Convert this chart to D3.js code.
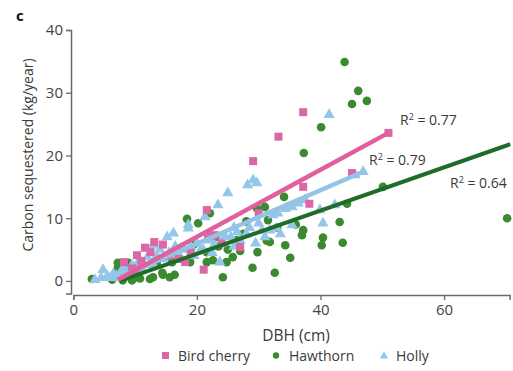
<!DOCTYPE html>
<html>
<head>
<meta charset="utf-8">
<title>Carbon sequestered vs DBH</title>
<style>
	body { margin: 0; background: #fff; }
	svg text { font-family: "Open Sans", "Noto Sans", sans-serif; fill: #3a3a3a; }
</style>
</head>
<body>
<div class="chart"></div>
<script src="https://cdn.jsdelivr.net/npm/d3@7"></script>
<script>
	// [DBH (cm), carbon (kg/year)]
	const birdCherry = [
		[8.2,3.0],[9.5,2.0],[10.0,1.8],[10.3,4.1],[11.0,3.2],[11.6,5.3],[12.5,4.6],[13.1,6.2],
		[14.5,5.8],[15.5,4.0],[17.0,3.5],[18.1,3.0],[19.0,4.5],[21.1,1.8],[21.6,11.3],[21.8,7.3],
		[22.9,7.3],[24.0,6.0],[27.0,5.4],[29.1,19.1],[30.0,10.8],[33.2,23.0],[37.2,26.9],
		[37.2,15.0],[38.2,12.3],[45.1,17.2],[51.0,23.6]
	];
	const hawthorn = [
		[3.0,0.3],[6.3,0.2],[7.2,2.1],[7.2,2.9],[8.0,0.1],[8.9,2.9],[9.5,0.1],[9.7,0.3],[10.8,0.4],
		[11.0,2.2],[12.4,0.3],[12.9,0.6],[13.5,2.8],[14.4,1.3],[14.5,1.0],[15.6,0.6],[16.0,3.0],
		[16.4,1.0],[17.6,5.4],[18.4,9.9],[18.9,3.0],[19.5,5.8],[20.2,9.2],[21.6,4.6],[21.6,3.0],
		[22.1,10.8],[22.6,3.3],[23.0,7.0],[23.5,5.5],[24.2,0.6],[24.8,3.0],[25.0,5.0],[25.8,3.8],
		[26.5,6.5],[27.0,4.8],[27.5,7.5],[28.0,9.5],[29.0,2.1],[29.7,11.6],[29.8,4.6],[31.0,11.8],
		[31.3,6.4],[31.5,9.7],[31.8,6.2],[32.6,1.3],[33.0,8.5],[34.1,13.4],[34.3,5.7],[35.1,3.7],
		[36.0,9.0],[37.0,7.3],[37.2,8.1],[37.3,20.4],[40.1,24.5],[40.2,5.7],[40.4,6.9],[43.1,9.4],
		[43.6,6.1],[43.9,34.9],[44.3,12.3],[45.1,28.2],[46.1,30.3],[47.5,28.7],[50.1,15.0],[70.2,10.0]
	];
	const holly = [
		[3.5,0.2],[4.5,0.5],[4.8,1.8],[5.5,0.8],[6.0,0.5],[6.5,1.2],[7.0,0.8],[7.5,1.0],[8.0,2.0],
		[8.5,1.5],[9.0,1.2],[9.5,2.5],[10.0,1.8],[10.5,3.0],[11.0,2.0],[11.5,2.6],[12.0,3.8],
		[12.9,5.7],[13.0,2.5],[13.5,4.0],[14.0,5.0],[14.5,3.5],[15.2,7.0],[15.5,4.5],[16.2,7.6],
		[16.5,5.5],[17.0,4.2],[17.5,3.5],[18.0,5.0],[18.6,8.4],[18.6,8.9],[19.0,5.5],[19.5,4.0],
		[20.0,6.0],[20.5,4.8],[21.0,5.0],[21.3,10.2],[22.0,6.5],[22.5,4.5],[22.8,5.8],[23.4,12.1],
		[23.7,3.0],[24.0,6.0],[24.5,7.2],[25.0,14.0],[25.5,7.0],[26.0,5.5],[26.0,8.5],[26.5,7.8],
		[27.0,6.5],[28.2,15.3],[28.0,7.5],[28.5,8.5],[29.1,16.1],[29.5,6.0],[29.7,15.6],[30.0,9.2],
		[30.5,8.0],[31.0,7.0],[31.8,8.1],[32.3,10.5],[32.9,8.4],[33.1,10.8],[33.5,7.5],[34.3,11.5],
		[35.4,11.8],[35.4,8.9],[36.4,12.4],[37.5,12.9],[39.9,11.3],[40.4,9.2],[41.4,26.5],[42.3,12.1],
		[45.6,16.9],[46.9,17.4]
	];

	// fitted lines, start and end points
	const fitBirdCherry = [[7.2,0.2],[51.0,23.6]];
	const fitHawthorn = [[7.5,0.0],[70.7,21.8]];
	const fitHolly = [[6.5,0.2],[46.9,17.4]];

	const seriesNames = ["Bird cherry", "Hawthorn", "Holly"];
	const r2Labels = ["0.77", "0.79", "0.64"];
	const xTicks = [0, 20, 40, 60];
	const yTicks = [0, 10, 20, 30, 40];

	window.onload = function(){
		draw();
	}

	function draw(){
		let width = 513, height = 371;
		let colors = {pink: "#dc67a6", green: "#3c8a30", blue: "#93c6e8",
			pinkLine: "#e0609f", greenLine: "#1f6b28", blueLine: "#95c3e6"};

		let svg = d3.select(".chart").append("svg")
			.attr("width", width)
			.attr("height", height);

		let x = d3.scaleLinear().domain([0, 70.6]).range([73.3, 509.6]);
		let y = d3.scaleLinear().domain([-2, 40]).range([293.5, 30]);

		// axes
		let axisX = svg.append("g")
			.attr("transform", "translate(0,295)")
			.call(d3.axisBottom(x).tickValues(xTicks).tickSizeOuter(0).tickSize(5).tickPadding(4));
		let axisY = svg.append("g")
			.attr("transform", "translate(71,0)")
			.call(d3.axisLeft(y).tickValues(yTicks).tickSizeOuter(0).tickSize(5).tickPadding(3));
		[axisX, axisY].forEach(function(a){
			a.select(".domain").attr("stroke", "#6a6a6a").attr("stroke-width", 1.5);
			a.selectAll(".tick line").attr("stroke", "#6a6a6a").attr("stroke-width", 1.3);
			a.selectAll(".tick text").attr("font-size", 15).style("fill", "#444")
				.attr("font-family", null);
		});

		// points
		let plot = svg.append("g");
		plot.selectAll("circle.hawthorn").data(hawthorn).enter().append("circle")
			.attr("class", "hawthorn")
			.attr("cx", d => x(d[0])).attr("cy", d => y(d[1]))
			.attr("r", 4.3).attr("fill", colors.green);

		let tri = d3.symbol().type(d3.symbolTriangle).size(55);
		plot.selectAll("path.holly").data(holly).enter().append("path")
			.attr("class", "holly")
			.attr("d", tri)
			.attr("transform", d => "translate(" + x(d[0]) + "," + y(d[1]) + ")")
			.attr("fill", colors.blue);

		plot.selectAll("rect.cherry").data(birdCherry).enter().append("rect")
			.attr("class", "cherry")
			.attr("x", d => x(d[0]) - 4).attr("y", d => y(d[1]) - 4)
			.attr("width", 8).attr("height", 8)
			.attr("fill", colors.pink);

		// fit lines
		let line = d3.line().x(d => x(d[0])).y(d => y(d[1]));
		plot.append("path").datum(fitHolly).attr("d", line)
			.attr("stroke", colors.blueLine).attr("stroke-width", 4.5).attr("fill", "none");
		plot.append("path").datum(fitHawthorn).attr("d", line)
			.attr("stroke", colors.greenLine).attr("stroke-width", 4).attr("fill", "none");
		plot.append("path").datum(fitBirdCherry).attr("d", line)
			.attr("stroke", colors.pinkLine).attr("stroke-width", 4.5).attr("fill", "none");

		// R2 labels, placed near the end of each fit
		let r2Pos = [[400, 125], [369, 165], [450, 188]];
		r2Labels.forEach(function(v, i){
			let t = svg.append("text")
				.attr("x", r2Pos[i][0]).attr("y", r2Pos[i][1])
				.attr("font-size", 14);
			t.append("tspan").text("R");
			t.append("tspan").attr("font-size", 9).attr("dy", -5).text("2");
			t.append("tspan").attr("dy", 5).text(" = " + v);
		});

		// axis titles
		svg.append("text")
			.attr("x", 296).attr("y", 341)
			.attr("text-anchor", "middle").attr("font-size", 15.5)
			.text("DBH (cm)");
		svg.append("text")
			.attr("transform", "translate(33,155) rotate(-90)")
			.attr("text-anchor", "middle").attr("font-size", 14)
			.text("Carbon sequestered (kg/year)");

		// panel letter
		svg.append("text")
			.attr("x", 16).attr("y", 21)
			.attr("font-size", 15).attr("font-weight", "bold")
			.style("fill", "#111")
			.text("c");

		// legend
		let legend = svg.append("g");
		legend.append("rect").attr("x", 162).attr("y", 352).attr("width", 7).attr("height", 7)
			.attr("fill", colors.pink);
		legend.append("text").attr("x", 178).attr("y", 361).attr("font-size", 14).text(seriesNames[0]);
		legend.append("circle").attr("cx", 276).attr("cy", 355.5).attr("r", 3.2)
			.attr("fill", colors.green);
		legend.append("text").attr("x", 289).attr("y", 361).attr("font-size", 14).text(seriesNames[1]);
		legend.append("path").attr("d", d3.symbol().type(d3.symbolTriangle).size(30))
			.attr("transform", "translate(384,356)").attr("fill", colors.blue);
		legend.append("text").attr("x", 396).attr("y", 361).attr("font-size", 14).text(seriesNames[2]);
	}
</script>
</body>
</html>
